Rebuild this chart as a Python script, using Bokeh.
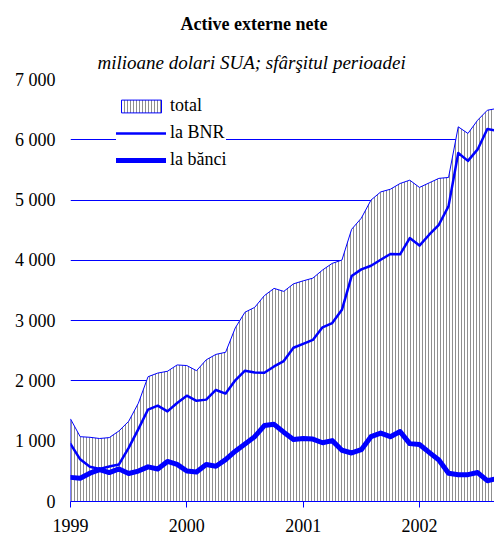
import pandas as pd
from bokeh.plotting import figure
from bokeh.models import Range1d, FixedTicker, Title, Legend, LegendItem
from bokeh.embed import file_html
from bokeh.resources import INLINE

# ---------------- data ----------------
title_text = "Active externe nete"
subtitle_text = "milioane dolari SUA; sfârşitul perioadei"
start_month = "1999-01"

total = [1370, 1075, 1065, 1045, 1060, 1170, 1330, 1630, 2070, 2130,
         2160, 2265, 2255, 2170, 2350, 2440, 2475, 2880, 3140, 3220,
         3415, 3535, 3485, 3610, 3660, 3705, 3840, 3950, 4005, 4515,
         4700, 5000, 5135, 5180, 5275, 5330, 5210, 5285, 5360, 5375,
         6215, 6105, 6325, 6490, 6520]
la_bnr = [955, 700, 575, 540, 580, 615, 890, 1200, 1525, 1590,
          1495, 1635, 1755, 1670, 1690, 1850, 1790, 2010, 2170, 2140,
          2135, 2240, 2330, 2550, 2615, 2680, 2890, 2960, 3180, 3740,
          3850, 3910, 4010, 4105, 4100, 4370, 4245, 4425, 4590, 4900,
          5780, 5650, 5840, 6180, 6150]
la_banci = [400, 385, 470, 530, 480, 540, 465, 505, 575, 540,
            665, 615, 505, 490, 615, 585, 695, 835, 955, 1075,
            1260, 1280, 1150, 1030, 1045, 1035, 975, 1010, 850, 805,
            860, 1075, 1135, 1075, 1160, 960, 945, 815, 690, 470,
            445, 445, 480, 345, 380]

series_labels = ["total", "la BNR", "la bănci"]
y_ticks = [0, 1000, 2000, 3000, 4000, 5000, 6000, 7000]
y_tick_labels = ["0", "1 000", "2 000", "3 000", "4 000", "5 000", "6 000", "7 000"]
x_ticks = [1999, 2000, 2001, 2002]
x_tick_labels = ["1999", "2000", "2001", "2002"]

# ---------------- derived ----------------
months = pd.date_range(start_month, periods=len(total), freq="MS")
x = [float(m.year + (m.month - 1) / 12.0) for m in months]
patch_x = x + x[::-1]
patch_y = total + [0] * len(total)

FONT = "Liberation Serif"
BLUE = "#0000ff"

p = figure(width=494, height=534, output_backend="svg", toolbar_location=None,
           x_range=Range1d(1999, 2002.645), y_range=Range1d(0, 7000),
           min_border_left=70, min_border_right=0, min_border_top=79,
           min_border_bottom=0)

p.outline_line_color = None
p.background_fill_color = "white"
p.border_fill_color = "white"

# titles
p.title.text = title_text
p.title.text_font = FONT
p.title.text_font_style = "bold"
p.title.text_font_size = "18px"
p.title.align = "left"
p.title.offset = 110
p.title.standoff = 19
p.title.text_color = "black"

sub = Title(text=subtitle_text, text_font=FONT, text_font_style="italic",
            text_font_size="19px", align="left", offset=27, standoff=13,
            text_color="black")
p.add_layout(sub, "above")

# grid
p.xgrid.visible = False
p.ygrid.ticker = FixedTicker(ticks=y_ticks)
p.ygrid.grid_line_color = BLUE
p.ygrid.grid_line_width = 1

# glyphs
r_total = p.patch(patch_x, patch_y, fill_color="white",
                  hatch_pattern="vertical_line", hatch_scale=3,
                  hatch_color="#8f8f8f", hatch_weight=1,
                  line_color=BLUE, line_width=1)
r_bnr = p.line(x, la_bnr, line_color=BLUE, line_width=2.5,
               line_join="round", line_cap="round")
r_banci = p.line(x, la_banci, line_color=BLUE, line_width=5,
                 line_join="round", line_cap="round")

# axes
p.yaxis.ticker = FixedTicker(ticks=y_ticks)
p.yaxis.major_label_overrides = {t: l for t, l in zip(y_ticks, y_tick_labels)}
p.yaxis.axis_line_color = None
p.yaxis.major_tick_line_color = None
p.yaxis.minor_tick_line_color = None
p.yaxis.major_tick_out = 0
p.yaxis.major_tick_in = 0
p.yaxis.major_label_standoff = 15
p.yaxis.major_label_text_font = FONT
p.yaxis.major_label_text_font_size = "18px"
p.yaxis.major_label_text_color = "black"

p.xaxis.ticker = FixedTicker(ticks=x_ticks)
p.xaxis.major_label_overrides = {t: l for t, l in zip(x_ticks, x_tick_labels)}
p.xaxis.axis_line_color = BLUE
p.xaxis.axis_line_width = 1
p.xaxis.major_tick_line_color = BLUE
p.xaxis.major_tick_out = 6
p.xaxis.major_tick_in = 0
p.xaxis.minor_tick_line_color = None
p.xaxis.major_label_standoff = 11
p.xaxis.major_label_text_font = FONT
p.xaxis.major_label_text_font_size = "18px"
p.xaxis.major_label_text_color = "black"

legend = Legend(items=[LegendItem(label=series_labels[0], renderers=[r_total]),
                       LegendItem(label=series_labels[1], renderers=[r_bnr]),
                       LegendItem(label=series_labels[2], renderers=[r_banci])],
                location=(46, 331), orientation="vertical",
                glyph_width=50, glyph_height=16, label_height=21,
                label_standoff=4, spacing=6, padding=12, margin=0,
                border_line_color=None, background_fill_color="white",
                background_fill_alpha=1.0,
                label_text_font=FONT, label_text_font_size="18px",
                label_text_color="black")
p.add_layout(legend)

open("out.html", "w").write(file_html(p, INLINE))
